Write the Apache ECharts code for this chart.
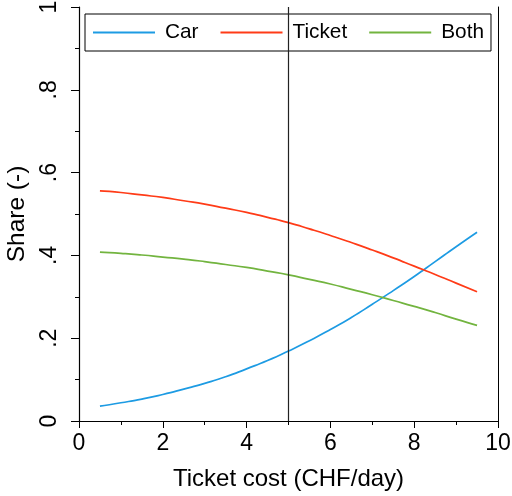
<!DOCTYPE html>
<html>
<head>
<meta charset="utf-8">
<script src="https://cdn.jsdelivr.net/npm/echarts@6/dist/echarts.min.js"></script>
<style>
  html, body { margin: 0; padding: 0; background: #fff; }
  #chart { width: 512px; height: 496px; }
</style>
</head>
<body>
<div id="chart"></div>
<script>
// Ticket cost (CHF/day) at which the shares are evaluated
var ticketCost = [0.5, 1, 1.5, 2, 2.5, 3, 3.5, 4, 4.5, 5, 5.5, 6, 6.5, 7, 7.5, 8, 8.5, 9, 9.5];

// Predicted shares per option
var carShare    = [0.036, 0.044, 0.053, 0.064, 0.077, 0.091, 0.107, 0.126, 0.146, 0.169, 0.194, 0.221, 0.250, 0.282, 0.315, 0.349, 0.385, 0.421, 0.456];
var ticketShare = [0.556, 0.552, 0.546, 0.540, 0.532, 0.524, 0.514, 0.504, 0.492, 0.479, 0.464, 0.448, 0.431, 0.413, 0.394, 0.374, 0.354, 0.333, 0.312];
var bothShare   = [0.408, 0.405, 0.401, 0.396, 0.391, 0.385, 0.378, 0.371, 0.362, 0.353, 0.342, 0.331, 0.318, 0.305, 0.291, 0.277, 0.262, 0.246, 0.231];

// Reference cost marked with a vertical line
var referenceCost = 5;

// Axis tick labels
var xTickLabels = ['0', '2', '4', '6', '8', '10'];
var yTickLabels = ['0', '.2', '.4', '.6', '.8', '1'];

var seriesNames = ['Car', 'Ticket', 'Both'];
var seriesColors = ['#1d9be3', '#ff3b17', '#72b43f'];
var seriesValues = [carShare, ticketShare, bothShare];

var FONT = 'Liberation Sans, Arial, sans-serif';

function pairs(xs, ys) {
  return xs.map(function (x, i) { return [x, ys[i]]; });
}

var series = seriesNames.map(function (name, k) {
  return {
    name: name,
    type: 'line',
    data: pairs(ticketCost, seriesValues[k]),
    symbol: 'none',
    smooth: 0.6,
    lineStyle: { color: seriesColors[k], width: 1.7 },
    itemStyle: { color: seriesColors[k] },
    z: 3
  };
});

// vertical reference line
series.push({
  name: 'ref',
  type: 'line',
  data: [],
  markLine: {
    silent: true,
    symbol: 'none',
    label: { show: false },
    lineStyle: { color: '#222', width: 1.2, type: 'solid' },
    emphasis: { disabled: true },
    data: [{ xAxis: referenceCost }]
  },
  z: 2
});

var chart = echarts.init(document.getElementById('chart'), null, { renderer: 'canvas' });

chart.setOption({
  animation: false,
  backgroundColor: '#fff',
  grid: { left: 79, right: 14, top: 7, bottom: 75, containLabel: false, outerBoundsMode: 'none' },
  legend: {
    data: seriesNames,
    left: 85,
    top: 14,
    orient: 'horizontal',
    icon: 'rect',
    itemWidth: 62,
    itemHeight: 2,
    itemGap: 22,
    padding: [8, 7, 8, 8],
    borderColor: '#000',
    borderWidth: 1,
    backgroundColor: '#fff',
    textStyle: { fontFamily: FONT, fontSize: 20.8, color: '#000', padding: [0, 0, 0, 5], lineHeight: 21 }
  },
  xAxis: {
    type: 'value',
    min: 0,
    max: 10,
    interval: 2,
    name: 'Ticket cost (CHF/day)',
    nameLocation: 'middle',
    nameGap: 46,
    nameTextStyle: { fontFamily: FONT, fontSize: 24, color: '#000' },
    axisLine: { show: true, onZero: false, lineStyle: { color: '#000', width: 1.2 } },
    axisTick: { show: true, length: 7, lineStyle: { color: '#000', width: 1 } },
    minorTick: { show: true, splitNumber: 2, length: 4, lineStyle: { color: '#000', width: 1 } },
    splitLine: { show: false },
    axisLabel: {
      fontFamily: FONT, fontSize: 23, color: '#000', margin: 11,
      formatter: function (v) { return xTickLabels[Math.round(v / 2)]; }
    }
  },
  yAxis: [{
    type: 'value',
    min: 0,
    max: 1,
    interval: 0.2,
    position: 'left',
    name: 'Share (-)',
    nameLocation: 'middle',
    nameRotate: 90,
    nameGap: 32,
    nameTextStyle: { fontFamily: FONT, fontSize: 24.5, color: '#000' },
    axisLine: { show: true, onZero: false, lineStyle: { color: '#000', width: 1.2 } },
    axisTick: { show: true, length: 8, lineStyle: { color: '#000', width: 1 } },
    minorTick: { show: true, splitNumber: 2, length: 4, lineStyle: { color: '#000', width: 1 } },
    splitLine: { show: false },
    axisLabel: {
      fontFamily: FONT, fontSize: 23, color: '#000', margin: 18, rotate: 90,
      formatter: function (v) { return yTickLabels[Math.round(v * 5)]; }
    }
  }, {
    type: 'value',
    min: 0,
    max: 1,
    position: 'right',
    axisLine: { show: true, onZero: false, lineStyle: { color: '#000', width: 1 } },
    axisTick: { show: false },
    axisLabel: { show: false },
    splitLine: { show: false }
  }],
  series: series
});
</script>
</body>
</html>
